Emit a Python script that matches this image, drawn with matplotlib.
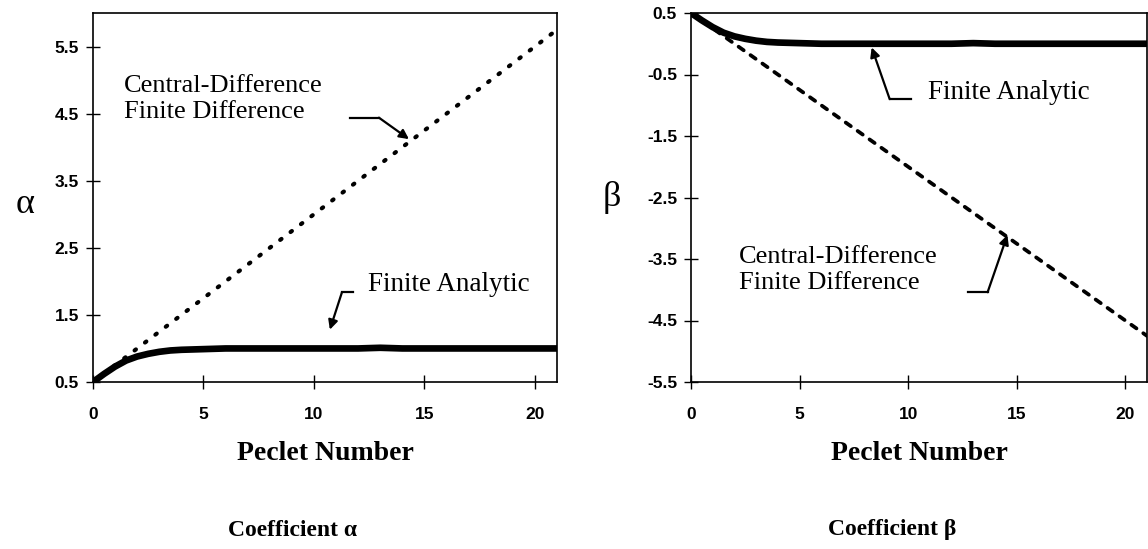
import matplotlib.pyplot as plt

plt.rcParams['lines.scale_dashes'] = False
plt.rcParams['font.family'] = ['Liberation Sans', 'DejaVu Sans']

# Peclet numbers at which the curves were read
peclet = [0, 0.5, 1, 1.5, 2, 2.5, 3, 3.5, 4, 5, 6, 8, 10, 12, 13, 14, 16, 18, 20, 21]
# finite analytic coefficients
alpha_fa = [0.5, 0.62, 0.73, 0.82, 0.88, 0.92, 0.95, 0.97, 0.98, 0.99, 1.0,
            1.0, 1.0, 1.0, 1.01, 1.0, 1.0, 1.0, 1.0, 1.0]
beta_fa = [0.5, 0.38, 0.27, 0.18, 0.12, 0.08, 0.05, 0.03, 0.02, 0.01, 0.0,
           0.0, 0.0, 0.0, 0.01, 0.0, 0.0, 0.0, 0.0, 0.0]
# central-difference finite difference coefficients (straight lines)
peclet_cd = [0, 21]
alpha_cd = [0.5, 5.75]
beta_cd = [0.5, -4.75]

serif = ['Liberation Serif', 'DejaVu Serif']
arrow = dict(arrowstyle='-|>', color='black', lw=1.6, mutation_scale=14,
             shrinkA=0, shrinkB=0)

fig = plt.figure(figsize=(11.48, 5.49), dpi=100)
ax1 = fig.add_axes([93 / 1148, 167 / 549, 464 / 1148, 369 / 549])
ax2 = fig.add_axes([691 / 1148, 167 / 549, 456 / 1148, 369 / 549])


def style_axes(ax, yticks, ylim):
    ax.set_xlim(0, 21)
    ax.set_ylim(*ylim)
    ax.set_xticks([0, 5, 10, 15, 20])
    ax.set_yticks(yticks)
    ax.set_yticklabels([f'{v:g}' for v in yticks])
    ax.tick_params(direction='inout', length=10, width=1.0, labelsize=12.5)
    ax.tick_params(axis='x', pad=13)
    ax.tick_params(axis='y', pad=5)
    for lab in ax.get_xticklabels() + ax.get_yticklabels():
        lab.set_fontweight('bold')
    for s in ax.spines.values():
        s.set_linewidth(1.2)
    ax.set_xlabel('Peclet Number', family=serif, fontsize=20, fontweight='bold',
                  labelpad=14)


# alpha panel
ax1.plot(peclet_cd, alpha_cd, color='black', lw=3.0, dashes=(1.2, 8.2),
         dash_capstyle='round')
ax1.plot(peclet, alpha_fa, color='black', lw=4.8, solid_capstyle='round')
style_axes(ax1, [0.5, 1.5, 2.5, 3.5, 4.5, 5.5], (0.5, 6.0))
ax1.set_ylabel('α', family=serif, fontsize=26, rotation=0, va='center', ha='center')
ax1.yaxis.set_label_coords(-0.147, 0.48)
ax1.text(1.4, 4.72, 'Central-Difference\nFinite Difference', family=serif,
         fontsize=19, ha='left', va='center', linespacing=1.2)
ax1.plot([11.63, 12.94], [4.44, 4.44], color='black', lw=1.6)
ax1.annotate('', xy=(14.3, 4.12), xytext=(12.94, 4.44), arrowprops=arrow)
ax1.text(12.44, 1.95, 'Finite Analytic', family=serif, fontsize=19.5,
         ha='left', va='center')
ax1.plot([11.76, 11.27], [1.84, 1.84], color='black', lw=1.6)
ax1.annotate('', xy=(10.72, 1.28), xytext=(11.27, 1.84), arrowprops=arrow)

# beta panel
ax2.plot(peclet_cd, beta_cd, color='black', lw=2.7, dashes=(4.5, 6.0),
         dash_capstyle='round')
ax2.plot(peclet, beta_fa, color='black', lw=4.8, solid_capstyle='round')
style_axes(ax2, [-5.5, -4.5, -3.5, -2.5, -1.5, -0.5, 0.5], (-5.5, 0.5))
ax2.set_ylabel('β', family=serif, fontsize=26, rotation=0, va='center', ha='center')
ax2.yaxis.set_label_coords(-0.173, 0.5)
ax2.text(10.9, -0.80, 'Finite Analytic', family=serif, fontsize=19.5,
         ha='left', va='center')
ax2.plot([10.11, 9.15], [-0.90, -0.90], color='black', lw=1.6)
ax2.annotate('', xy=(8.32, -0.06), xytext=(9.15, -0.90), arrowprops=arrow)
ax2.text(2.21, -3.68, 'Central-Difference\nFinite Difference', family=serif,
         fontsize=19, ha='left', va='center', linespacing=1.2)
ax2.plot([12.74, 13.66], [-4.04, -4.04], color='black', lw=1.6)
ax2.annotate('', xy=(14.57, -3.11), xytext=(13.66, -4.04), arrowprops=arrow)

# captions under each panel
fig.text(292 / 1148, 1 - 530 / 549, 'Coefficient α', family=serif, fontsize=17,
         fontweight='bold', ha='center', va='center')
fig.text(892 / 1148, 1 - 530 / 549, 'Coefficient β', family=serif, fontsize=17,
         fontweight='bold', ha='center', va='center')

fig.savefig('out.png', dpi=100)
